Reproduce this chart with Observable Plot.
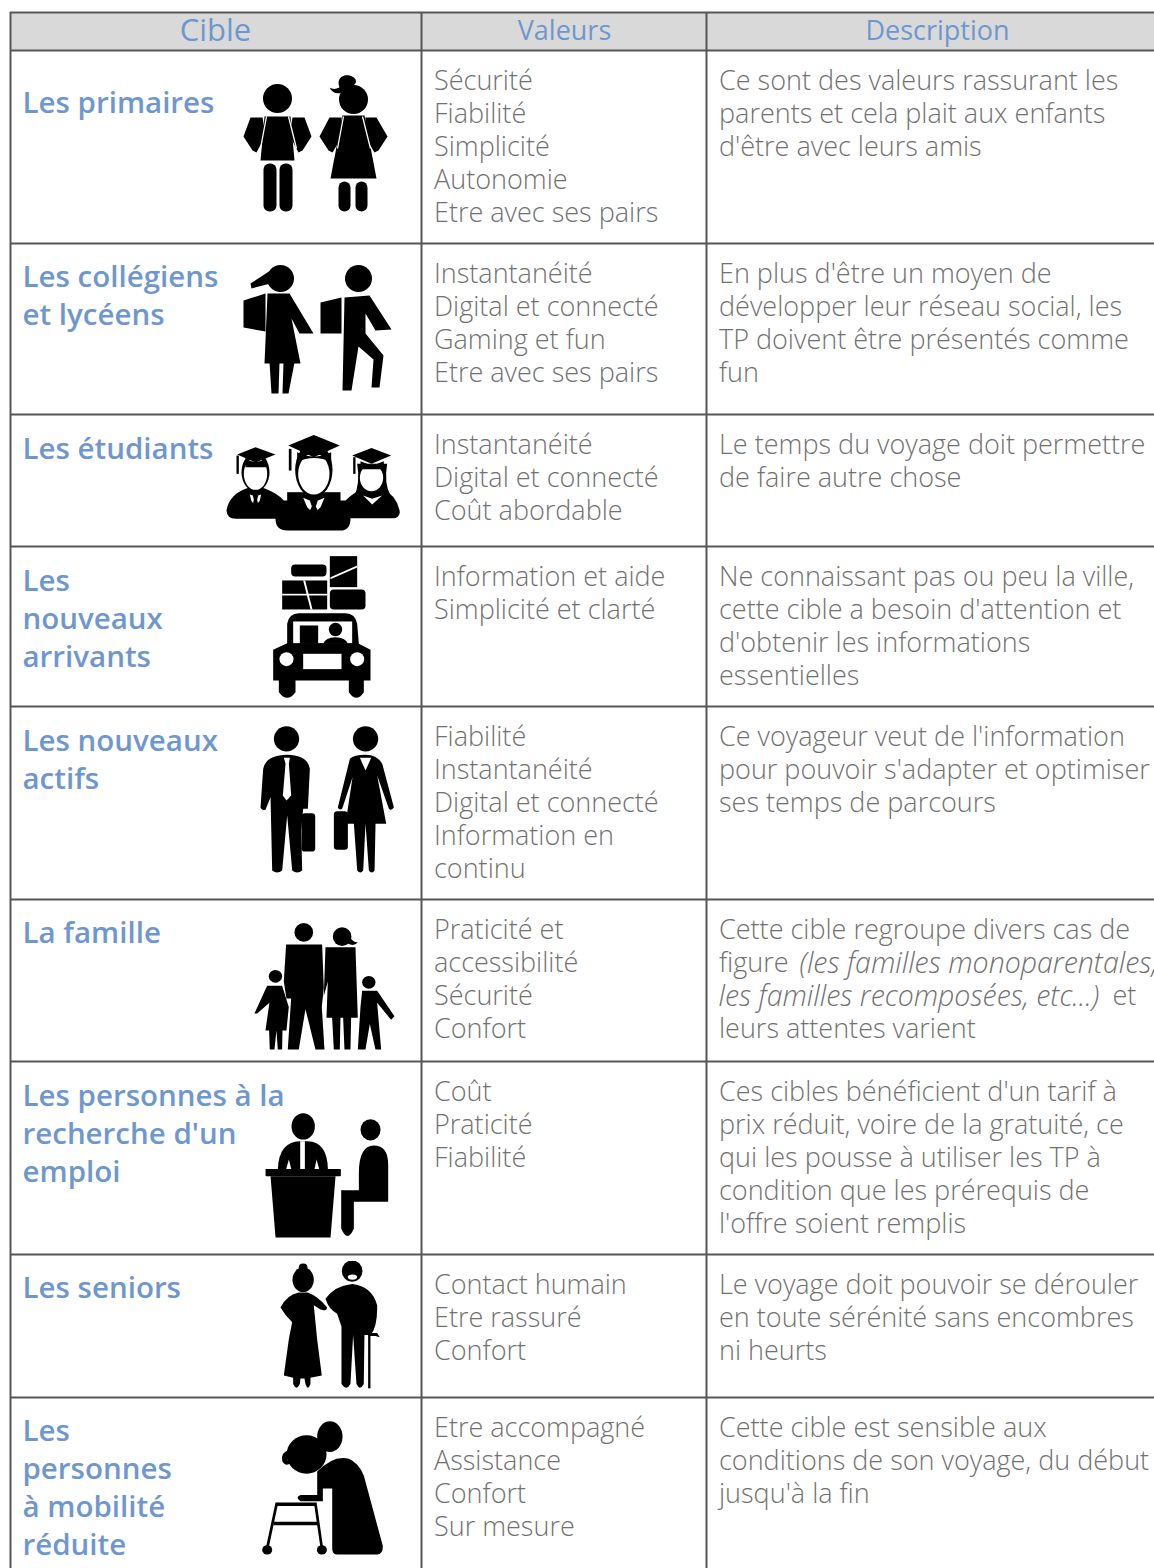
<!DOCTYPE html>
<html lang="fr"><head><meta charset="utf-8">
<script src="https://cdn.jsdelivr.net/npm/d3@7"></script>
<script src="https://cdn.jsdelivr.net/npm/@observablehq/plot@0.6"></script>
<style>html,body{margin:0;padding:0;background:#fff;overflow:hidden}</style>
</head><body><div id="chart"></div>
<script>
const headers = ["Cible","Valeurs","Description"];
const cibles = [
 ["Les primaires"],["Les collégiens","et lycéens"],["Les étudiants"],["Les","nouveaux","arrivants"],
 ["Les nouveaux","actifs"],["La famille"],["Les personnes à la","recherche d'un","emploi"],["Les seniors"],
 ["Les","personnes","à mobilité","réduite"]];
const valeurs = [
 ["Sécurité","Fiabilité","Simplicité","Autonomie","Etre avec ses pairs"],
 ["Instantanéité","Digital et connecté","Gaming et fun","Etre avec ses pairs"],
 ["Instantanéité","Digital et connecté","Coût abordable"],
 ["Information et aide","Simplicité et clarté"],
 ["Fiabilité","Instantanéité","Digital et connecté","Information en","continu"],
 ["Praticité et","accessibilité","Sécurité","Confort"],
 ["Coût","Praticité","Fiabilité"],
 ["Contact humain","Etre rassuré","Confort"],
 ["Etre accompagné","Assistance","Confort","Sur mesure"]];
const descriptions = [
 ["Ce sont des valeurs rassurant les","parents et cela plait aux enfants","d'être avec leurs amis"],
 ["En plus d'être un moyen de","développer leur réseau social, les","TP doivent être présentés comme","fun"],
 ["Le temps du voyage doit permettre","de faire autre chose"],
 ["Ne connaissant pas ou peu la ville,","cette cible a besoin d'attention et","d'obtenir les informations","essentielles"],
 ["Ce voyageur veut de l'information","pour pouvoir s'adapter et optimiser","ses temps de parcours"],
 ["Cette cible regroupe divers cas de","figure","","leurs attentes varient"],
 ["Ces cibles bénéficient d'un tarif à","prix réduit, voire de la gratuité, ce","qui les pousse à utiliser les TP à","condition que les prérequis de","l'offre soient remplis"],
 ["Le voyage doit pouvoir se dérouler","en toute sérénité sans encombres","ni heurts"],
 ["Cette cible est sensible aux","conditions de son voyage, du début","jusqu'à la fin"]];
const italics = [
 {text:"(les familles monoparentales,", x:799, row:5, line:1},
 {text:"les familles recomposées, etc...)", x:718, row:5, line:2}];
const afterItalic = [{text:"et", x:1112, row:5, line:2}];
const columnEdges = [10,421,706];
const rowEdges = [12,50,243,414,546,706,899,1061,1254,1397];
const headerCenters = [215,564,937];
const cibleOffsets = [53,34,35,35,35,34,35,34,34];
const BLUE = "#6f97cf", GREY = "#717171";
const FONT = "Open Sans";

const flat = (rows, first, step) => rows.flatMap((lines,r)=>lines.map((text,k)=>({text,y:rowEdges[r+1]+first(r)+k*step})));
const cibleLines = flat(cibles, r=>cibleOffsets[r], 38);
const valeurLines = flat(valeurs, ()=>31, 33);
const descLines = flat(descriptions, ()=>31, 33);
const lineY = d => rowEdges[d.row+1]+31+d.line*33;

// Pictograms (vector silhouettes), each drawn in its own local box
const svgIcon = (vb, body) => "data:image/svg+xml;charset=utf-8," + encodeURIComponent(
 `<svg xmlns="http://www.w3.org/2000/svg" viewBox="${vb}" preserveAspectRatio="none">${body}</svg>`);
const W = 'fill="#fff"', K='fill="#000"';
const kids = svgIcon("240 70 150 145", `<g ${K}>
<circle cx="277" cy="98" r="14.5"/>
<path d="M264 116H290L294 160H260Z"/>
<path d="M262 117H250L243 136L252 150L256 152L265 135Z"/><path d="M292 117H304L311 136L302 150L298 152L289 135Z"/>
<rect x="263" y="163" width="13" height="48" rx="6"/><rect x="279" y="163" width="13" height="48" rx="6"/>
<circle cx="353" cy="99" r="14.5"/>
<path d="M341 90C334 80 341 73 349 75C357 77 358 84 350 86Z"/><path d="M345 90C338 95 332 93 329 87C334 90 338 88 343 84Z"/>
<path d="M342 115H364L376 178H330Z"/>
<path d="M341 117H329L319 136L328 150L332 152L342 135Z"/><path d="M365 117H376L387 136L378 150L374 152L364 135Z"/>
<rect x="338" y="181" width="12" height="30" rx="6"/><rect x="355" y="181" width="12" height="30" rx="6"/></g>
<g stroke="#fff" stroke-width="1.3" fill="none"><path d="M266 116L260 148M288 116L296 148M343 116L337 148M362 116L370 148"/></g>`);
const teens = svgIcon("240 260 155 136", `<g ${K}>
<circle cx="280" cy="278" r="13.5"/><path d="M273 268L250 283L251 288L270 283Z"/>
<path d="M243 300L265 293V331L243 327Z"/>
<path d="M267 293H289L313 333H299L291 318L300 363H264Z"/>
<path d="M269 362H279L278 393H271Z"/><path d="M283 362H294L288 393H282Z"/>
<circle cx="358" cy="278" r="13.5"/>
<path d="M320 302L341 297V333H320Z"/>
<path d="M344 297L369 295L391 329L375 330L365 313V333L383 355L379 387L371 387L373 359L358 346L351 390H342Z"/></g>`);
const grads = svgIcon("0 30 600 310", `<g ${K}>
<path d="M18 270Q25 225 75 205L105 195L135 205Q175 222 190 240L375 240Q395 220 425 205H485Q530 225 538 275Q535 295 515 293H390Q390 330 360 330H200Q165 330 165 295H45Q20 295 18 270Z"/>
<ellipse cx="105" cy="155" rx="42" ry="58"/><ellipse cx="280" cy="148" rx="56" ry="82"/>
<path d="M400 230Q420 190 410 130H500Q490 190 510 225Z"/>
<rect x="200" y="215" width="160" height="60"/>
</g><g ${W}>
<ellipse cx="105" cy="160" rx="35" ry="48"/><ellipse cx="280" cy="160" rx="47" ry="62"/><ellipse cx="453" cy="172" rx="35" ry="40"/>
<path d="M88 222L105 228L122 222L118 240L105 258L92 240Z"/>
<path d="M248 232L280 245L312 232L300 260L280 280L260 260Z"/>
<path d="M428 225L455 235L485 225L455 252Z"/>
</g><g ${K}>
<path d="M50 102L105 80L165 102L105 126Z"/><path d="M203 75L280 43L358 75L280 110Z"/><path d="M395 105L453 82L512 105L453 130Z"/>
<path d="M75 114Q105 135 137 114V140H75Z"/><path d="M230 95Q280 120 332 95V125Q280 100 230 125Z"/><path d="M420 122Q455 140 490 122V146H420Z"/>
<rect x="48" y="105" width="7" height="55"/><rect x="205" y="85" width="8" height="65"/><rect x="398" y="110" width="7" height="50"/>
<path d="M97 225H113L110 238L114 256L105 268L96 256L100 238Z"/><path d="M268 240H292L286 258L292 270L280 282L268 270L274 258Z"/>
</g>`);
const car = svgIcon("120 400 360 450", `<g ${K}>
<rect x="212" y="432" width="106" height="36" rx="12"/><rect x="328" y="407" width="82" height="93"/>
<rect x="185" y="480" width="135" height="87"/><rect x="328" y="507" width="107" height="60" rx="12"/>
<path d="M158 688L200 668V610Q205 578 235 578H375Q405 578 410 610L415 670L450 688V780H430V815Q408 848 385 815V780H225V815Q200 848 175 815V780H158Z"/>
</g><g ${W}>
<path d="M330 470L410 435L410 441L330 476Z"/><rect x="185" y="520" width="135" height="5"/><path d="M248 480H254L276 567H270Z"/>
<rect x="218" y="603" width="177" height="65"/><circle cx="198" cy="716" r="21"/><circle cx="410" cy="716" r="21"/><rect x="248" y="700" width="115" height="46"/>
</g><g ${K}><rect x="238" y="615" width="55" height="55"/><circle cx="345" cy="627" r="20"/><path d="M308 670Q315 650 345 650Q375 650 382 670Z"/></g>`);
const workers = svgIcon("100 900 440 480", `<g ${K}>
<circle cx="198" cy="955" r="38"/><circle cx="435" cy="955" r="38"/>
<path d="M120 1160L128 1045Q135 1005 200 1003Q262 1005 268 1045L262 1165H248L242 1230L245 1350Q230 1362 215 1350L200 1185L185 1350Q170 1362 155 1350L150 1130L135 1168Q122 1170 120 1160Z"/>
<rect x="243" y="1178" width="41" height="115" rx="10"/><rect x="340" y="1172" width="42" height="116" rx="10"/>
<path d="M388 1015Q400 1003 435 1003Q470 1003 485 1030L520 1160Q512 1172 505 1165L470 1065L497 1210H465L462 1350Q454 1362 445 1350L435 1210L428 1350Q420 1362 410 1350L400 1210H375L396 1070L365 1165Q355 1170 352 1160Z"/>
</g><g ${W}>
<path d="M190 1012H208L205 1030L212 1125L198 1140L187 1125L195 1030Z"/><path d="M418 1012H452L435 1050Z"/>
</g>`);
const family = svgIcon("90 40 440 320", `<g ${K}>
<ellipse cx="250" cy="75" rx="28" ry="22"/><path d="M197 103H305L310 205L304 250L312 350H285L255 255L235 350H202L212 230L198 230L190 190Z"/>
<ellipse cx="365" cy="85" rx="28" ry="22"/><path d="M385 80Q395 100 412 98Q400 110 380 100Z"/>
<path d="M315 110H405L412 275H392L390 350H372L368 275H360L358 350H340L335 275H318L322 190L310 225Z"/>
<ellipse cx="165" cy="178" rx="20" ry="15"/><path d="M140 200H185L205 250L198 305H186L185 350H172L168 305L162 350H148L146 305H135L147 240L110 265H102Z"/>
<ellipse cx="445" cy="192" rx="20" ry="15"/><path d="M425 212H470L522 272L512 280L470 240L482 350H465L448 290L435 350H412L420 250Z"/>
</g>`);
const desk = svgIcon("120 490 400 320", `<g ${K}>
<ellipse cx="248" cy="530" rx="35" ry="31"/><path d="M172 630Q175 566 238 565H262Q320 566 322 630Z"/>
<rect x="135" y="630" width="226" height="17" rx="2"/><path d="M150 647H345L330 791H165Z"/>
<ellipse cx="450" cy="538" rx="30" ry="25"/>
<path d="M415 640Q415 575 460 575Q503 575 503 620V707H400V770Q381 805 362 770V680H415Z"/></g>
<g ${W}><path d="M239 565H253V630H239Z"/><path d="M197 630L205 608L212 630Z"/><path d="M282 630L288 608L296 630Z"/></g>`);
const seniors = svgIcon("170 845 310 305", `<g ${K}>
<ellipse cx="248" cy="890" rx="32" ry="29"/><ellipse cx="248" cy="861" rx="13" ry="9"/>
<path d="M180 955Q200 925 235 920H262Q295 930 320 955Q318 965 300 960L280 950L290 1030L304 1115L270 1120V1135Q262 1152 255 1135L252 1122H240L238 1135Q228 1152 218 1135V1120L190 1115L205 1030L215 990Q195 975 180 955Z"/>
<ellipse cx="395" cy="870" rx="31" ry="25"/>
<path d="M315 935Q340 905 395 900Q455 905 470 950Q472 1000 450 1020L432 1020L430 1135Q418 1152 408 1135L398 1020L390 1135Q378 1152 363 1135V1000L350 970Q325 960 315 935Z"/>
<rect x="443" y="1020" width="7" height="125"/><path d="M443 1015H470L478 1025L465 1022H443Z"/>
</g><g ${W}><ellipse cx="396" cy="884" rx="14" ry="6"/></g>`);
const walker = svgIcon("110 1210 390 335", `<g ${K}>
<ellipse cx="328" cy="1258" rx="38" ry="36"/><ellipse cx="258" cy="1300" rx="60" ry="45"/>
<path d="M205 1290Q180 1295 185 1315Q195 1330 210 1320Q195 1315 205 1305Z"/>
<path d="M290 1340Q340 1300 385 1310Q415 1320 430 1350L487 1515Q487 1535 470 1535H350Q335 1535 335 1520V1380H307V1410H240Q222 1400 240 1395H290Z"/>
<ellipse cx="140" cy="1524" rx="15" ry="11"/><ellipse cx="304" cy="1524" rx="15" ry="11"/></g>
<g fill="none" stroke="#000" stroke-width="8"><path d="M140 1520L168 1417H285L304 1520M160 1462H295"/></g>`);

const iconSources = [kids,teens,grads,car,workers,family,desk,seniors,walker];
const iconX = [315,317.5,320,320,326.7,323.3,326.7,328.3,321.7];
const iconY = [142.5,328,481.7,628.3,800,985.2,1177,1325,1487];
const iconW = [150,155,200,120,146.7,146.7,133.3,103.3,130];
const iconH = [145,136,103.3,150,160,136.3,136.3,130,142.7];
const iconData = iconSources.map((src,i)=>({src,x:iconX[i],y:iconY[i],w:iconW[i],h:iconH[i]}));

const txt = (data, o) => Plot.text(data, {y:"y", text:"text", fontFamily:FONT, textAnchor:"start", lineAnchor:"middle", ...o});
const plot = Plot.plot({
 width:1154, height:1568, margin:0,
 x:{domain:[0,1154], range:[0,1154], axis:null},
 y:{domain:[0,1568], range:[0,1568], axis:null},
 style:{background:"#fff"},
 marks:[
  Plot.rect([0],{x1:columnEdges[0], x2:1154, y1:rowEdges[0], y2:rowEdges[1], fill:"#d9d9d9"}),
  Plot.ruleY(rowEdges,{x1:columnEdges[0], x2:1154, stroke:"#565656", strokeWidth:2}),
  Plot.ruleX(columnEdges,{y1:rowEdges[0], y2:1568, stroke:"#565656", strokeWidth:2}),
  Plot.text(headers,{x:(d,i)=>headerCenters[i], y:()=>31, text:d=>d, fill:BLUE, fontFamily:FONT, fontSize:(d,i)=>i?27:31, lineAnchor:"middle"}),
  txt(cibleLines,{x:()=>22, fill:BLUE, fontSize:29.5, fontWeight:600}),
  txt(valeurLines,{x:()=>433.5, fill:GREY, fontSize:27, fontWeight:300}),
  txt(descLines,{x:()=>718.5, fill:GREY, fontSize:27, fontWeight:300}),
  Plot.text(italics,{x:"x", y:lineY, text:"text", fill:GREY, fontFamily:FONT, fontSize:28.5, fontWeight:300, fontStyle:"italic", textAnchor:"start", lineAnchor:"middle"}),
  Plot.text(afterItalic,{x:"x", y:lineY, text:"text", fill:GREY, fontFamily:FONT, fontSize:27, fontWeight:300, textAnchor:"start", lineAnchor:"middle"}),
  Plot.image(iconData,{x:"x", y:"y", src:"src", width:"w", height:"h", preserveAspectRatio:"none"})
 ]
});
document.getElementById("chart").append(plot);
</script></body></html>
